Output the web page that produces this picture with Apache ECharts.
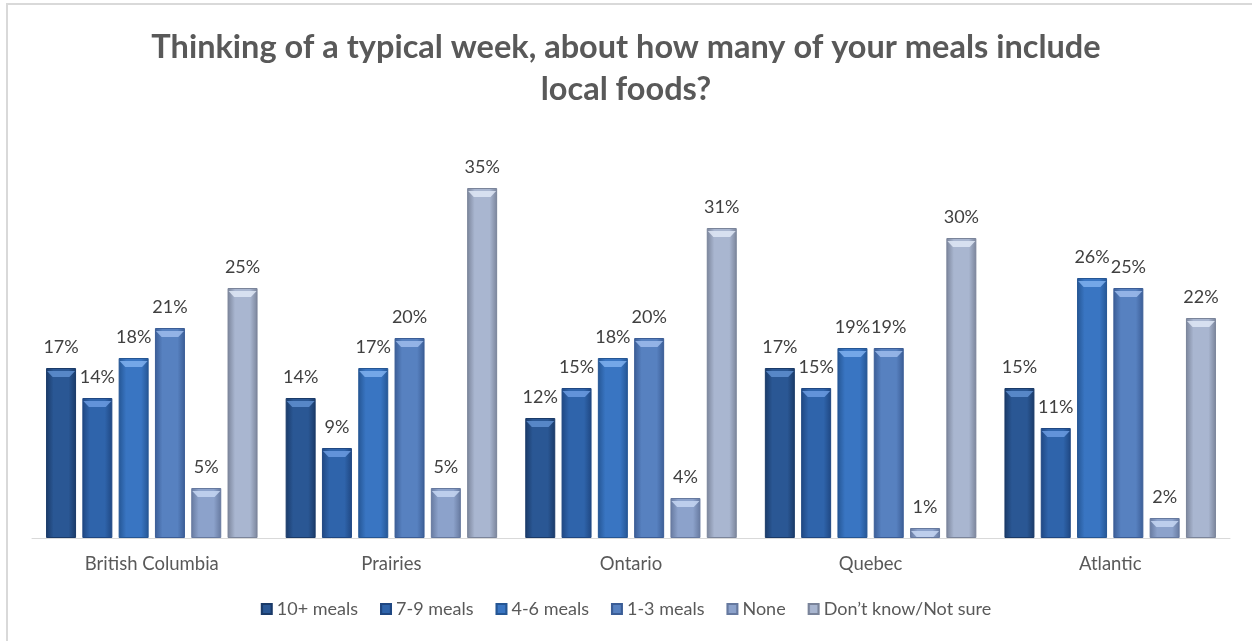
<!DOCTYPE html>
<html>
<head>
<meta charset="utf-8">
<script src="https://cdn.jsdelivr.net/npm/echarts@6/dist/echarts.min.js"></script>
<style>
  html, body { margin: 0; padding: 0; background: #ffffff; }
  #chart { width: 1252px; height: 641px; }
</style>
</head>
<body>
<div id="chart"></div>
<script>
// Regions along the x axis
const regions = ['British Columbia', 'Prairies', 'Ontario', 'Quebec', 'Atlantic'];

// Answer options (one series each)
const answers = ['10+ meals', '7-9 meals', '4-6 meals', '1-3 meals', 'None', 'Don\u2019t know/Not sure'];

// Share of respondents (%) per region, one array per answer
const meals10plus = [17, 14, 12, 17, 15];
const meals7to9   = [14, 9, 15, 15, 11];
const meals4to6   = [18, 17, 18, 19, 26];
const meals1to3   = [21, 20, 20, 19, 25];
const mealsNone   = [5, 5, 4, 1, 2];
const notSure     = [25, 35, 31, 30, 22];

const values = [meals10plus, meals7to9, meals4to6, meals1to3, mealsNone, notSure];

// Bevelled column palette: [edge, centre, top highlight]
const palette = [
  ['#1a3a68', '#2a5794', '#5f8fd0'],
  ['#1f4782', '#2f64ab', '#6b9be0'],
  ['#255694', '#3975c2', '#7fb0ee'],
  ['#3b5d96', '#5781c0', '#9dbcec'],
  ['#66799f', '#8ca2cb', '#c5d6f2'],
  ['#7a849a', '#a9b6d0', '#dfe7f6']
];

function columnFill(p) {
  return new echarts.graphic.LinearGradient(0, 0, 1, 0, [
    { offset: 0, color: p[0] },
    { offset: 0.25, color: p[1] },
    { offset: 0.75, color: p[1] },
    { offset: 1, color: p[0] }
  ]);
}

const BAR_W = 30;
const BAR_GAP = '21%';

const series = [];
answers.forEach((name, i) => {
  series.push({
    name: name,
    type: 'bar',
    data: values[i],
    barWidth: BAR_W,
    barGap: BAR_GAP,
    itemStyle: { color: columnFill(palette[i]), borderColor: palette[i][0], borderWidth: 1 },
    label: {
      show: true,
      position: 'top',
      distance: 12,
      formatter: '{c}%',
      fontFamily: 'Lato',
      fontSize: 18,
      color: '#404040'
    },
    z: 2
  });
});
// Light bevel cap on top of each column
answers.forEach((name, i) => {
  series.push({
    name: name,
    type: 'pictorialBar',
    data: values[i],
    barWidth: BAR_W,
    barGap: BAR_GAP,
    symbol: 'path://M0,0 L30,0 L24,6 L6,6 Z',
    symbolSize: [BAR_W - 2, 6],
    symbolPosition: 'end',
    symbolOffset: [0, '50%'],
    symbolKeepAspect: false,
    itemStyle: { color: palette[i][2], opacity: 0.85 },
    silent: true,
    legendHoverLink: false,
    z: 3
  });
});

const chart = echarts.init(document.getElementById('chart'), null, { renderer: 'canvas' });
chart.setOption({
  backgroundColor: '#ffffff',
  animation: false,
  title: {
    text: 'Thinking of a typical week, about how many of your meals include\nlocal foods?',
    left: 'center',
    top: 22,
    textStyle: {
      fontFamily: 'Lato',
      fontWeight: 'bold',
      fontSize: 32.5,
      lineHeight: 42,
      color: '#595959'
    }
  },
  graphic: [{
    type: 'rect',
    shape: { x: 7, y: 4, width: 1300, height: 700 },
    style: { fill: 'none', stroke: '#d9d9d9', lineWidth: 2 },
    silent: true
  }],
  legend: {
    data: answers,
    bottom: 18,
    left: 'center',
    icon: 'rect',
    itemWidth: 10,
    itemHeight: 10,
    itemGap: 22,
    textStyle: { fontFamily: 'Lato', fontSize: 18, color: '#595959' }
  },
  grid: { left: 32, right: 22, top: 138, bottom: 103, containLabel: false },
  xAxis: {
    type: 'category',
    data: regions,
    axisLine: { lineStyle: { color: '#d9d9d9', width: 1 } },
    axisTick: { show: false },
    axisLabel: { fontFamily: 'Lato', fontSize: 18.5, color: '#595959', margin: 17 }
  },
  yAxis: {
    type: 'value',
    min: 0,
    max: 40,
    show: false,
    splitLine: { show: false }
  },
  series: series
});
</script>
</body>
</html>
